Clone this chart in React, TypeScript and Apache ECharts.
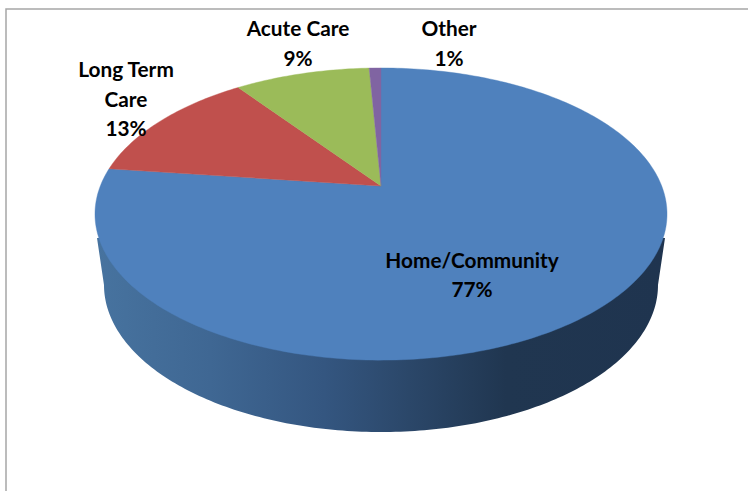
import React, { useEffect, useRef } from "react";
import * as echarts from "echarts";

const categories = ["Home/Community", "Long Term\nCare", "Acute Care", "Other"];
const shares = [77, 13, 9.2, 0.8];
const sliceColors = ["#4F81BD", "#C0504D", "#9BBB59", "#8064A2"];
const labelAnchors = [
  [472, 274],
  [126, 98],
  [298, 42.5],
  [449, 42.5],
];

// Perspective projection of the pie's disc on to the page
const APEX_X = 381;
const APEX_Y = 186;
const SCALE_X = 280.7;
const SCALE_Y = 140.7;
const TILT = 0.192;

function project(fraction: number): number[] {
  const a = fraction * Math.PI * 2;
  const u = Math.sin(a);
  const v = Math.cos(a);
  const w = 1 + TILT * v;
  return [APEX_X + (SCALE_X * u) / w, APEX_Y - (SCALE_Y * v) / w];
}

function slicePoints(from: number, to: number): number[][] {
  const pts: number[][] = [[APEX_X, APEX_Y]];
  const n = Math.max(4, Math.ceil((to - from) * 360));
  for (let i = 0; i <= n; i++) pts.push(project(from + ((to - from) * i) / n));
  return pts;
}

function wallPoints(): number[][] {
  const pts: number[][] = [];
  const cx = 381;
  const cy = 285;
  const rx = 277;
  const ry = 147;
  pts.push([97, 238]);
  for (let d = 180; d >= 0; d -= 1) {
    const t = (d * Math.PI) / 180;
    pts.push([cx + rx * Math.cos(t), cy + ry * Math.sin(t)]);
  }
  pts.push([665, 238]);
  return pts;
}

function renderItem(params: any, api: any) {
  const i = params.dataIndex;
  const total = shares.reduce((s, x) => s + x, 0);
  const before = shares.slice(0, i).reduce((s, x) => s + x, 0);
  const value = api.value(0);
  const children: any[] = [];
  if (i === 0) {
    children.push({
      type: "polygon",
      shape: { points: wallPoints() },
      style: {
        fill: new echarts.graphic.LinearGradient(
          0,
          0,
          1,
          0,
          [
            { offset: 0, color: "#47739F" },
            { offset: 0.2, color: "#3F6793" },
            { offset: 0.4, color: "#345680" },
            { offset: 0.55, color: "#2B4769" },
            { offset: 0.72, color: "#203650" },
            { offset: 1, color: "#1F344F" },
          ]
        ),
      },
    });
  }
  children.push({
    type: "polygon",
    shape: { points: slicePoints(before / total, (before + value) / total) },
    style: { fill: sliceColors[i], stroke: sliceColors[i], lineWidth: 0.4 },
  });
  return { type: "group", children };
}

function labelItem(params: any, api: any) {
  const i = params.dataIndex;
  return {
    type: "text",
    style: {
      text: `${categories[i]}\n${Math.round(api.value(0))}%`,
      x: labelAnchors[i][0],
      y: labelAnchors[i][1],
      textAlign: "center",
      textVerticalAlign: "middle",
      font: "bold 20.8px Lato",
      lineHeight: 29.5,
      fill: "#000000",
    },
  };
}

export default function App() {
  const ref = useRef<HTMLDivElement>(null);
  useEffect(() => {
    const chart = echarts.init(ref.current!, null, { renderer: "svg" });
    chart.setOption({
      animation: false,
      backgroundColor: "#FFFFFF",
      graphic: [
        {
          type: "polyline",
          z: 0,
          shape: { points: [[6, 491], [6, 9], [748, 9]] },
          style: { stroke: "#A6A6A6", lineWidth: 1.5, fill: "none" },
        },
      ],
      series: [
        {
          type: "custom",
          coordinateSystem: "none",
          renderItem,
          data: shares.map((v) => [v]),
          silent: true,
          z: 2,
        },
        {
          type: "custom",
          coordinateSystem: "none",
          renderItem: labelItem,
          data: shares.map((v) => [v]),
          silent: true,
          z: 3,
        },
      ],
    });
    return () => chart.dispose();
  }, []);
  return (
    <div
      ref={ref}
      style={{ position: "fixed", left: 0, top: 0, width: 748, height: 491 }}
    />
  );
}
